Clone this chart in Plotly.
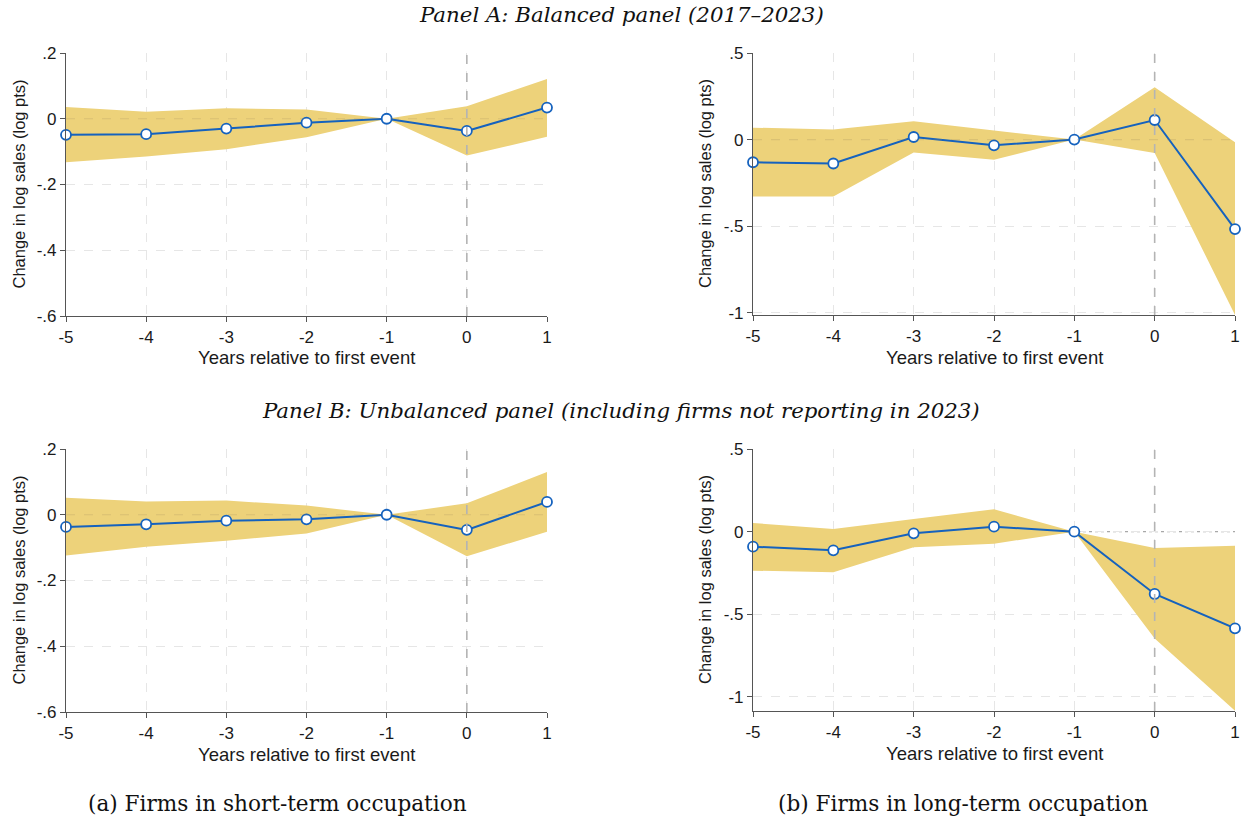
import plotly.graph_objects as go

years = [-5, -4, -3, -2, -1, 0, 1]

# Panel A (balanced), short-term
a_st_coef = [-0.049, -0.047, -0.030, -0.012, 0.0, -0.037, 0.034]
a_st_hi = [0.036, 0.021, 0.032, 0.028, 0.0, 0.038, 0.121]
a_st_lo = [-0.132, -0.115, -0.093, -0.056, 0.0, -0.112, -0.055]

# Panel A (balanced), long-term
a_lt_coef = [-0.131, -0.138, 0.015, -0.033, 0.0, 0.113, -0.517]
a_lt_hi = [0.069, 0.058, 0.106, 0.055, 0.0, 0.302, -0.015]
a_lt_lo = [-0.329, -0.329, -0.075, -0.117, 0.0, -0.077, -1.013]

# Panel B (unbalanced), short-term
b_st_coef = [-0.037, -0.029, -0.018, -0.014, 0.0, -0.046, 0.039]
b_st_hi = [0.052, 0.040, 0.043, 0.028, 0.0, 0.035, 0.130]
b_st_lo = [-0.124, -0.097, -0.079, -0.057, 0.0, -0.126, -0.052]

# Panel B (unbalanced), long-term
b_lt_coef = [-0.091, -0.113, -0.010, 0.030, 0.0, -0.377, -0.585]
b_lt_hi = [0.052, 0.016, 0.077, 0.135, 0.0, -0.099, -0.085]
b_lt_lo = [-0.236, -0.246, -0.095, -0.073, 0.0, -0.647, -1.083]

st_ticks = [0.2, 0.0, -0.2, -0.4, -0.6]
st_ticklabels = [".2", "0", "-.2", "-.4", "-.6"]
lt_ticks = [0.5, 0.0, -0.5, -1.0]
lt_ticklabels = [".5", "0", "-.5", "-1"]
x_ticklabels = ["-5", "-4", "-3", "-2", "-1", "0", "1"]

BAND = "#EDD27A"
BLUE = "#1562BE"
W, H = 1242, 818

fig = go.Figure()

# pixel geometry of the four panels: (x0, x1, ytop, ybottom)
panels = [
    (66, 547, 53, 316, a_st_coef, a_st_hi, a_st_lo, [-0.6, 0.2], st_ticks, st_ticklabels, False),
    (753, 1235, 53, 315, a_lt_coef, a_lt_hi, a_lt_lo, [-1.013, 0.5], lt_ticks, lt_ticklabels, False),
    (66, 547, 449, 712, b_st_coef, b_st_hi, b_st_lo, [-0.6, 0.2], st_ticks, st_ticklabels, False),
    (753, 1235, 449, 711, b_lt_coef, b_lt_hi, b_lt_lo, [-1.085, 0.5], lt_ticks, lt_ticklabels, True),
]

layout = dict(
    width=W, height=H, margin=dict(l=0, r=0, t=0, b=0, autoexpand=False),
    paper_bgcolor="white", plot_bgcolor="white", showlegend=False,
    font=dict(family="Liberation Sans, Arial, sans-serif", size=17, color="#1a1a1a"),
)
shapes = []
annotations = []

for i, (x0, x1, yt, yb, coef, hi, lo, yr, yt_vals, yt_text, zero_dotted) in enumerate(panels):
    k = "" if i == 0 else str(i + 1)
    xa, ya = "x" + k, "y" + k
    common = dict(
        showline=True, linecolor="#555555", linewidth=1.2,
        ticks="outside", ticklen=5, tickcolor="#555555",
        showgrid=True, gridcolor="#e6e6e6", griddash="dash", gridwidth=1,
        zeroline=False, tickfont=dict(size=17), automargin=False,
    )
    layout["xaxis" + k] = dict(
        domain=[x0 / W, x1 / W], anchor=ya, range=[-5, 1],
        tickvals=years, ticktext=x_ticklabels, **common,
    )
    layout["yaxis" + k] = dict(
        domain=[1 - yb / H, 1 - yt / H], anchor=xa, range=yr,
        tickvals=yt_vals, ticktext=yt_text, **common,
    )
    # confidence band
    fig.add_trace(go.Scatter(
        x=years + years[::-1], y=hi + lo[::-1], fill="toself",
        fillcolor=BAND, line=dict(width=0), mode="lines",
        hoverinfo="skip", xaxis=xa, yaxis=ya,
    ))
    # point estimates
    fig.add_trace(go.Scatter(
        x=years, y=coef, mode="lines+markers",
        line=dict(color=BLUE, width=2),
        marker=dict(size=10, color="white", line=dict(color=BLUE, width=1.8)),
        cliponaxis=False, xaxis=xa, yaxis=ya,
    ))
    # zero line
    if zero_dotted:
        shapes.append(dict(type="line", xref=xa + " domain", yref=ya, x0=0, x1=1, y0=0, y1=0,
                           line=dict(color="#a8a8a8", width=1.3, dash="dot"), layer="below"))
    else:
        shapes.append(dict(type="line", xref=xa + " domain", yref=ya, x0=0, x1=1, y0=0, y1=0,
                           line=dict(color="rgba(150,130,90,0.22)", width=1.2, dash="dash"), layer="above"))
    # event line at x = 0
    shapes.append(dict(type="line", xref=xa, yref=ya + " domain", x0=0, x1=0, y0=0, y1=1,
                       line=dict(color="#b4b4b4", width=1.6, dash="dash"), layer="above"))
    # axis titles
    annotations.append(dict(
        text="Years relative to first event", xref="paper", yref="paper",
        x=(x0 + x1) / 2 / W, y=1 - (yb + 42) / H, showarrow=False,
        xanchor="center", yanchor="middle", font=dict(size=18.5, color="#1a1a1a"),
    ))
    annotations.append(dict(
        text="Change in log sales (log pts)", xref="paper", yref="paper",
        x=(x0 - 48) / W, y=1 - (yt + yb) / 2 / H, showarrow=False, textangle=-90,
        xanchor="center", yanchor="middle", font=dict(size=16.5, color="#1a1a1a"),
    ))

serif = "DejaVu Serif, Liberation Serif, serif"
annotations += [
    dict(text="<i>Panel A: Balanced panel (2017–2023)</i>", xref="paper", yref="paper",
         x=621 / W, y=1 - 15 / H, showarrow=False, xanchor="center", yanchor="middle",
         font=dict(family=serif, size=21.3, color="#111111")),
    dict(text="<i>Panel B: Unbalanced panel (including firms not reporting in 2023)</i>", xref="paper",
         yref="paper", x=621 / W, y=1 - 410 / H, showarrow=False, xanchor="center", yanchor="middle",
         font=dict(family=serif, size=21.3, color="#111111")),
    dict(text="(a) Firms in short-term occupation", xref="paper", yref="paper",
         x=277 / W, y=1 - 803 / H, showarrow=False, xanchor="center", yanchor="middle",
         font=dict(family=serif, size=21.6, color="#111111")),
    dict(text="(b) Firms in long-term occupation", xref="paper", yref="paper",
         x=963 / W, y=1 - 803 / H, showarrow=False, xanchor="center", yanchor="middle",
         font=dict(family=serif, size=21.6, color="#111111")),
]

layout["shapes"] = shapes
layout["annotations"] = annotations
fig.update_layout(**layout)
fig.write_html("out.html")
